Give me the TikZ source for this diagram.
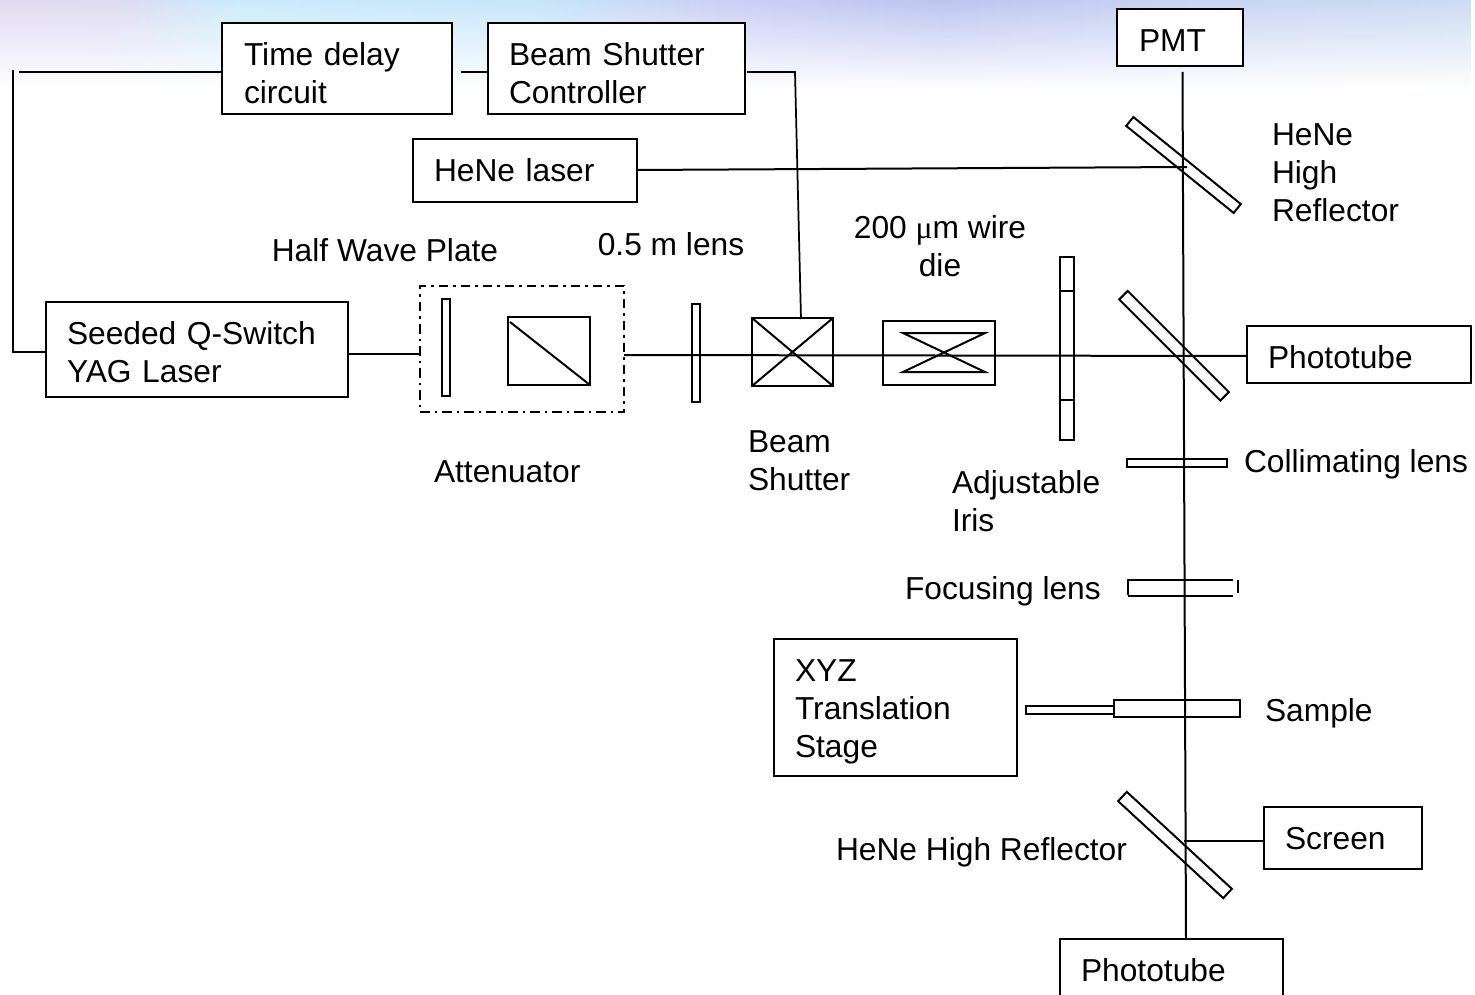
\documentclass[tikz,border=0pt]{standalone}
\usepackage{fontspec}
\setmainfont{Liberation Sans}
\newfontfamily\mufont{Liberation Serif}
\usetikzlibrary{fadings}
\def\px{0.75pt}
\pgfdeclarehorizontalshading{topband}{100bp}{
  rgb(0bp)=(0.88,0.86,0.95);
  rgb(25bp)=(0.88,0.86,0.95);
  rgb(29bp)=(0.87,0.86,0.95);
  rgb(33bp)=(0.80,0.92,0.98);
  rgb(43bp)=(0.78,0.90,0.98);
  rgb(49bp)=(0.80,0.82,0.96);
  rgb(57bp)=(0.74,0.77,0.94);
  rgb(66bp)=(0.79,0.83,0.95);
  rgb(75bp)=(0.80,0.86,0.95);
  rgb(100bp)=(0.80,0.86,0.95)}
\tikzfading[name=bandfade, top color=transparent!0, middle color=transparent!35, bottom color=transparent!100]
\tikzset{
  x=0.75pt, y=-0.75pt,
  wire/.style={draw=black, line width=1.5pt},
  thin wire/.style={draw=black, line width=1.3pt},
  boxed/.style={draw=black, line width=1.5pt, fill=white, inner ysep=0pt, outer sep=0pt, align=left, font=\fontsize{23.8}{28.5}\selectfont},
  optic/.style={draw=black, line width=1.5pt, inner sep=0pt, outer sep=0pt, minimum width=0pt, minimum height=0pt},
  caption/.style={inner sep=0pt, outer sep=0pt, align=left, anchor=west, font=\fontsize{23.8}{28.5}\selectfont},
  ccaption/.style={caption, align=center, anchor=center}
}
% name, x1, y1, x2, y2, text x, first baseline, text
\newcommand\boxn[8]{%
  \pgfmathsetmacro\bxi{#6-#2}%
  \node[boxed, anchor=center, inner xsep=\bxi*\px, text width={(#4-#2-2*(\bxi))*\px},
    text height={(#7-#3)*\px}, text depth={(#5-#7)*\px}]
    (#1) at ({(#2+#4)/2},{(#3+#5)/2}) {#8};}
% name, x1, y1, x2, y2
\newcommand\optc[5]{%
  \node[optic, minimum width={(#4-#2)*\px}, minimum height={(#5-#3)*\px}]
    (#1) at ({(#2+#4)/2},{(#3+#5)/2}) {};}
% name, cx, cy, length, width, angle
\newcommand\mirr[6]{%
  \node[optic, rotate=#6, minimum width={#4*\px}, minimum height={#5*\px}]
    (#1) at (#2,#3) {};}
\begin{document}
\begin{tikzpicture}
\useasboundingbox (0,0) rectangle (1475,995);
\clip (0,0) rectangle (1475,995);
\shade[shading=topband, path fading=bandfade, fit fading=true] (0,0) rectangle (1475,90);

% free ends of the connectors
\coordinate (topL) at (19,72);
\coordinate (cornerA) at (13,70);
\coordinate (cornerB) at (13,352);
\coordinate (seedIn) at (48,352);
\coordinate (tdOut) at (461,72);
\coordinate (bsIn) at (488,72);
\coordinate (bcOut) at (747,72);
\coordinate (bcCorner) at (795,72);
\coordinate (shutterTop) at (801,319);
\coordinate (laserOut) at (348,354);
\coordinate (attIn) at (420,354);
\coordinate (attOut) at (624,355);
\coordinate (ptIn) at (1247,356);
\coordinate (pmtIn) at (1182.5,72);
\coordinate (ptBottom) at (1186,939);
\coordinate (heneOut) at (637,170);
\coordinate (heneEnd) at (1187,167);
\coordinate (scrFrom) at (1184,841);
\coordinate (scrIn) at (1264,841);
\coordinate (tdIn) at (222,72);

% connectors
\draw[wire] (topL) -- (tdIn);
\draw[thin wire] (cornerA) -- (cornerB) -- (seedIn);
\draw[wire] (tdOut) -- (bsIn);
\draw[thin wire] (bcOut) -- (bcCorner) -- (shutterTop);
\draw[thin wire] (laserOut) -- (attIn);
\draw[wire] (attOut) -- (ptIn);
\draw[wire] (pmtIn) -- (ptBottom);
\draw[wire] (heneOut) -- (heneEnd);
\draw[wire] (scrFrom) -- (scrIn);

% boxes with text
\boxn{delay}{222}{23}{452}{114}{244}{66}{Time delay\\circuit}
\boxn{shutterctl}{488}{23}{745}{114}{509}{66}{Beam Shutter\\Controller}
\boxn{pmt}{1117}{9}{1243}{66}{1139}{52}{PMT}
\boxn{hene}{413}{139}{637}{202}{434}{182}{HeNe laser}
\boxn{yag}{46}{302}{348}{397}{67}{344}{Seeded Q-Switch\\YAG Laser}
\boxn{photoA}{1247}{326}{1471}{383}{1268}{368}{Phototube}
\boxn{stage}{774}{639}{1017}{776}{795}{681}{XYZ\\Translation\\Stage}
\boxn{screen}{1264}{807}{1422}{869}{1285}{849}{Screen}
\boxn{photoB}{1060}{939}{1283}{1001}{1081}{981}{Phototube}

% attenuator
\node[optic, dash pattern=on 9.5*\px off 5*\px on 2.5*\px off 5*\px, minimum width={204*\px}, minimum height={126*\px}] (atten) at (522,349) {};
\optc{hwp}{442}{299}{450}{396}
\optc{cube}{508}{317}{590}{385}
\coordinate (cubeA) at (510,322);
\draw[wire] (cubeA) -- (cube.south east);

% lens and shutter
\optc{lensA}{692}{304}{700}{402}
\optc{shutter}{752}{318}{833}{386}
\draw[wire] (shutter.north west) -- (shutter.south east);
\draw[wire] (shutter.south west) -- (shutter.north east);

% wire die
\optc{die}{883}{321}{995}{385}
\coordinate (dieA) at (903,333);
\coordinate (dieB) at (985,333);
\coordinate (dieC) at (903,372);
\coordinate (dieD) at (985,372);
\draw[wire] (dieA) -- (dieB) -- (dieC) -- (dieD) -- cycle;

% iris
\optc{irisA}{1060}{257}{1074}{291}
\optc{irisB}{1060}{291}{1074}{400}
\optc{irisC}{1060}{400}{1074}{440}

% mirrors
\mirr{mirrorA}{1183.5}{165}{138.3}{11.4}{-39}
\mirr{mirrorB}{1174}{345.75}{143}{12}{-45}
\mirr{mirrorC}{1175}{845}{143}{12.7}{-42.7}

% lenses and sample
\optc{collim}{1127}{459}{1227}{467}
\coordinate (focA) at (1233,580);
\coordinate (focB) at (1128,580);
\coordinate (focC) at (1128,595);
\coordinate (focD) at (1233,596);
\coordinate (focE) at (1238,580);
\coordinate (focF) at (1238,593);
\draw[wire] (focA) -- (focB) -- (focC);
\draw[wire] (focC |- focD) -- (focD);
\draw[wire] (focE) -- (focF);
\optc{sample}{1114}{700}{1240}{717}
\optc{rod}{1026}{706}{1114}{714}

% captions
\node[ccaption] (capHwp) at (385,250) {Half Wave Plate};
\node[ccaption] (capLens) at (671,244) {0.5 m lens};
\node[ccaption] (capDie) at (940,246) {200 {\mufont μ}m wire\\die};
\node[caption] (capShutter) at (748,460.5) {Beam\\Shutter};
\node[caption] (capAtt) at (434,472) {Attenuator};
\node[caption] (capIris) at (952,501.5) {Adjustable\\Iris};
\node[caption] (capMirA) at (1272,173) {HeNe\\High\\Reflector};
\node[caption] (capCol) at (1244,464) {Collimating lens};
\node[caption] (capFoc) at (905,591) {Focusing lens};
\node[caption] (capSam) at (1265,713) {Sample};
\node[caption] (capMirC) at (836,852) {HeNe High Reflector};
\end{tikzpicture}
\end{document}
